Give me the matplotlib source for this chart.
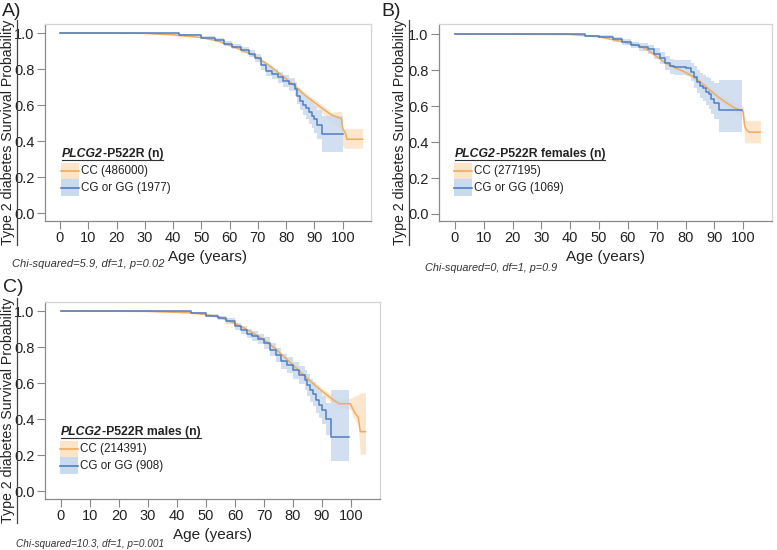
import matplotlib
matplotlib.use("Agg")
import matplotlib.pyplot as plt
from matplotlib.patches import Rectangle
from matplotlib.lines import Line2D

plt.rcParams['font.family'] = ['Liberation Sans', 'DejaVu Sans']

W, H = 777, 550

# ---- data ----
# Panel A: all participants
a_cc_age = [0, 30, 40, 50, 56, 62, 68, 74, 78, 82, 87, 92, 96, 99.5, 100, 101, 101.5, 107]
a_cc_s = [1.0, 0.998, 0.99, 0.975, 0.955, 0.92, 0.88, 0.82, 0.77, 0.72, 0.65, 0.59, 0.545, 0.525, 0.47, 0.44, 0.41, 0.41]
a_cc_lo = [1.0, 0.997, 0.988, 0.972, 0.951, 0.915, 0.874, 0.812, 0.76, 0.71, 0.635, 0.57, 0.50, 0.47, 0.37, 0.36, 0.36, 0.36]
a_cc_hi = [1.0, 0.999, 0.992, 0.978, 0.959, 0.925, 0.886, 0.828, 0.78, 0.73, 0.665, 0.61, 0.56, 0.565, 0.47, 0.47, 0.47, 0.47]
a_g_age = [0, 30, 42, 50, 55, 58, 61, 64, 67, 69, 71, 73, 75, 77, 79, 81, 83, 84, 85, 86, 87, 88, 89, 90, 91, 92.5, 100]
a_g_s = [1.0, 0.998, 0.99, 0.975, 0.96, 0.94, 0.925, 0.905, 0.885, 0.86, 0.82, 0.79, 0.77, 0.755, 0.735, 0.715, 0.69, 0.65, 0.62, 0.60, 0.585, 0.56, 0.54, 0.52, 0.49, 0.437, 0.437]
a_g_lo = [1.0, 0.997, 0.987, 0.968, 0.95, 0.927, 0.91, 0.888, 0.866, 0.838, 0.797, 0.764, 0.742, 0.725, 0.702, 0.678, 0.65, 0.605, 0.57, 0.545, 0.525, 0.495, 0.47, 0.445, 0.41, 0.34, 0.34]
a_g_hi = [1.0, 0.999, 0.993, 0.982, 0.97, 0.953, 0.94, 0.922, 0.904, 0.882, 0.843, 0.816, 0.798, 0.785, 0.768, 0.752, 0.73, 0.695, 0.67, 0.655, 0.645, 0.625, 0.61, 0.595, 0.57, 0.54, 0.54]

# Panel B: females
b_cc_age = [0, 40, 50, 56, 60, 64, 67, 70, 73, 76, 79, 82, 85, 88, 91, 94, 97, 100, 100.5, 101, 102, 106]
b_cc_s = [1.0, 0.998, 0.985, 0.965, 0.95, 0.935, 0.91, 0.875, 0.84, 0.815, 0.795, 0.77, 0.735, 0.695, 0.655, 0.62, 0.59, 0.57, 0.49, 0.47, 0.455, 0.455]
b_cc_lo = [1.0, 0.997, 0.983, 0.962, 0.946, 0.93, 0.904, 0.868, 0.832, 0.806, 0.785, 0.758, 0.72, 0.678, 0.635, 0.595, 0.56, 0.54, 0.40, 0.395, 0.395, 0.395]
b_cc_hi = [1.0, 0.999, 0.987, 0.968, 0.954, 0.94, 0.916, 0.882, 0.848, 0.824, 0.805, 0.782, 0.75, 0.712, 0.675, 0.645, 0.62, 0.60, 0.52, 0.52, 0.52, 0.52]
b_g_age = [0, 40, 45, 50, 55, 58, 61, 64, 67, 69, 71, 73, 74.5, 76, 80, 82, 83, 84, 85, 86, 87, 88, 89, 90, 91.5, 99.5]
b_g_s = [1.0, 0.998, 0.99, 0.985, 0.97, 0.955, 0.94, 0.93, 0.915, 0.89, 0.865, 0.84, 0.82, 0.815, 0.81, 0.79, 0.76, 0.735, 0.71, 0.70, 0.68, 0.665, 0.64, 0.615, 0.58, 0.58]
b_g_lo = [1.0, 0.997, 0.985, 0.977, 0.958, 0.94, 0.922, 0.908, 0.89, 0.86, 0.832, 0.802, 0.78, 0.772, 0.765, 0.74, 0.70, 0.675, 0.645, 0.63, 0.605, 0.585, 0.555, 0.53, 0.455, 0.455]
b_g_hi = [1.0, 0.999, 0.995, 0.993, 0.982, 0.97, 0.958, 0.952, 0.94, 0.92, 0.898, 0.878, 0.86, 0.858, 0.855, 0.84, 0.82, 0.80, 0.785, 0.775, 0.762, 0.755, 0.74, 0.73, 0.745, 0.745]

# Panel C: males
c_cc_age = [0, 30, 45, 50, 55, 58, 62, 66, 70, 74, 78, 82, 86, 90, 94, 96, 99.8, 100.5, 101.5, 102.5, 103.2, 105]
c_cc_s = [1.0, 0.998, 0.99, 0.98, 0.965, 0.945, 0.915, 0.88, 0.84, 0.79, 0.73, 0.67, 0.61, 0.555, 0.505, 0.485, 0.485, 0.46, 0.43, 0.41, 0.33, 0.33]
c_cc_lo = [1.0, 0.997, 0.988, 0.977, 0.961, 0.94, 0.909, 0.873, 0.832, 0.78, 0.719, 0.657, 0.595, 0.537, 0.483, 0.46, 0.455, 0.42, 0.39, 0.37, 0.205, 0.205]
c_cc_hi = [1.0, 0.999, 0.992, 0.983, 0.969, 0.95, 0.921, 0.887, 0.848, 0.80, 0.741, 0.683, 0.625, 0.573, 0.527, 0.51, 0.515, 0.52, 0.53, 0.535, 0.545, 0.545]
c_g_age = [0, 30, 45, 50, 54, 57, 60, 62, 64, 66, 68, 70, 72, 74, 76, 78, 80, 82, 84, 85, 86, 87, 88, 89, 90, 91.5, 93, 99.3]
c_g_s = [1.0, 0.998, 0.99, 0.975, 0.96, 0.945, 0.915, 0.895, 0.875, 0.86, 0.845, 0.82, 0.785, 0.755, 0.72, 0.70, 0.67, 0.645, 0.615, 0.59, 0.56, 0.54, 0.505, 0.48, 0.45, 0.40, 0.30, 0.30]
c_g_lo = [1.0, 0.997, 0.986, 0.968, 0.95, 0.93, 0.895, 0.873, 0.85, 0.833, 0.815, 0.787, 0.75, 0.717, 0.68, 0.656, 0.623, 0.595, 0.56, 0.53, 0.497, 0.475, 0.435, 0.405, 0.37, 0.31, 0.165, 0.165]
c_g_hi = [1.0, 0.999, 0.994, 0.982, 0.97, 0.96, 0.935, 0.917, 0.9, 0.887, 0.875, 0.853, 0.82, 0.793, 0.76, 0.744, 0.717, 0.695, 0.67, 0.65, 0.623, 0.605, 0.575, 0.555, 0.53, 0.49, 0.56, 0.56]

y_label = "Type 2 diabetes Survival Probability"
x_label = "Age (years)"
x_ticks = list(range(0, 101, 10))
y_ticks = [0.0, 0.2, 0.4, 0.6, 0.8, 1.0]

panels = [
    dict(tag="A)", box=(45, 24, 371, 221), xlim=(-5.3, 110), ylim=(-0.044, 1.05),
         cc=(a_cc_age, a_cc_s, a_cc_lo, a_cc_hi), g=(a_g_age, a_g_s, a_g_lo, a_g_hi),
         title="-P522R (n)", labels=["CC (486000)", "CG or GG (1977)"],
         chi="Chi-squared=5.9, df=1, p=0.02", chi_xy=(12, 264), chi_fs=8, tag_xy=(2, 12),
         ylab_x=1, leg_x=62),
    dict(tag="B)", box=(439, 24, 772, 221), xlim=(-5.5, 110), ylim=(-0.039, 1.056),
         cc=(b_cc_age, b_cc_s, b_cc_lo, b_cc_hi), g=(b_g_age, b_g_s, b_g_lo, b_g_hi),
         title="-P522R females (n)", labels=["CC (277195)", "CG or GG (1069)"],
         chi="Chi-squared=0, df=1, p=0.9", chi_xy=(425, 268), chi_fs=7.8, tag_xy=(381, 12),
         ylab_x=393, leg_x=455),
    dict(tag="C)", box=(45, 302, 380, 499), xlim=(-5.5, 110), ylim=(-0.044, 1.05),
         cc=(c_cc_age, c_cc_s, c_cc_lo, c_cc_hi), g=(c_g_age, c_g_s, c_g_lo, c_g_hi),
         title="-P522R males (n)", labels=["CC (214391)", "CG or GG (908)"],
         chi="Chi-squared=10.3, df=1, p=0.001", chi_xy=(16, 544), chi_fs=7.2, tag_xy=(3, 287),
         ylab_x=1, leg_x=61),
]

orange = "#F0AC5E"
blue = "#4F7EC2"
orange_band = "#FCE4C9"
blue_band = "#C9DAEE"


def fx(px):
    return px / W


def fy(py):
    return 1 - py / H


fig = plt.figure(figsize=(W / 100, H / 100), dpi=100)
renderer = fig.canvas.get_renderer()

for p in panels:
    x0, y0, x1, y1 = p["box"]
    ax = fig.add_axes([fx(x0), fy(y1), (x1 - x0) / W, (y1 - y0) / H])
    age, s, lo, hi = p["cc"]
    ax.fill_between(age, lo, hi, color=orange_band, lw=0, alpha=0.9)
    gage, gs, glo, ghi = p["g"]
    ax.fill_between(gage, glo, ghi, step="post", color=blue_band, lw=0, alpha=0.85)
    ax.plot(age, s, color=orange, lw=1.1)
    ax.step(gage, gs, where="post", color=blue, lw=1.1)

    ax.set_xlim(*p["xlim"])
    ax.set_ylim(*p["ylim"])
    ax.set_xticks(x_ticks)
    ax.set_yticks(y_ticks)
    ax.set_yticklabels([f"{v:.1f}" for v in y_ticks])
    ax.tick_params(length=6, width=0.8, color="#888888", labelsize=10.5,
                   labelcolor="#222222", pad=1.5)
    for side in ["top", "right"]:
        ax.spines[side].set_color("#d4d4d4")
        ax.spines[side].set_linewidth(0.9)
    for side in ["left", "bottom"]:
        ax.spines[side].set_color("#8a8a8a")
        ax.spines[side].set_linewidth(0.9)
    ax.set_xlabel(x_label, fontsize=11, color="#222222", labelpad=3)

    # y label with underline
    cy = (y0 + y1) / 2 + 10
    yl = fig.text(fx(p["ylab_x"]), fy(cy), y_label, rotation=90, ha="left", va="center",
                  fontsize=10.2, color="#222222")
    bb = yl.get_window_extent(renderer)
    ux = bb.x1 / W + 1.5 / W
    fig.add_artist(Line2D([ux, ux], [bb.y0 / H, bb.y1 / H], color="#444444", lw=0.9,
                          transform=fig.transFigure))

    # panel tag
    fig.text(fx(p["tag_xy"][0]), fy(p["tag_xy"][1]), p["tag"], fontsize=14, va="center",
             ha="left", color="#222222")

    # chi-squared note
    fig.text(fx(p["chi_xy"][0]), fy(p["chi_xy"][1]), p["chi"], fontsize=p["chi_fs"],
             style="italic", va="center", ha="left", color="#333333")

    # legend (custom)
    lx = p["leg_x"]
    t1 = fig.text(fx(lx), fy(y0 + 133), "PLCG2", fontsize=8.8, fontweight="bold",
                  style="italic", ha="left", va="baseline", color="#222222")
    b1 = t1.get_window_extent(renderer)
    t2 = fig.text(b1.x1 / W, fy(y0 + 133), p["title"], fontsize=8.8, fontweight="bold",
                  ha="left", va="baseline", color="#222222")
    b2 = t2.get_window_extent(renderer)
    fig.add_artist(Line2D([fx(lx), b2.x1 / W], [fy(y0 + 135.5), fy(y0 + 135.5)],
                          color="#333333", lw=0.8, transform=fig.transFigure))
    rows = [(orange_band, orange, y0 + 139, y0 + 155, y0 + 147),
            (blue_band, blue, y0 + 155, y0 + 172, y0 + 164)]
    for (bc, lc, ra, rb, rc), lab in zip(rows, p["labels"]):
        fig.add_artist(Rectangle((fx(lx - 1), fy(rb)), 18 / W, (rb - ra) / H, color=bc,
                                 lw=0, transform=fig.transFigure))
        fig.add_artist(Line2D([fx(lx - 1), fx(lx + 17)], [fy(rc), fy(rc)], color=lc, lw=1.2,
                              transform=fig.transFigure))
        fig.text(fx(lx + 19), fy(rc), lab, fontsize=8.4, ha="left", va="center",
                 color="#222222")

fig.savefig("out.png", dpi=100)
